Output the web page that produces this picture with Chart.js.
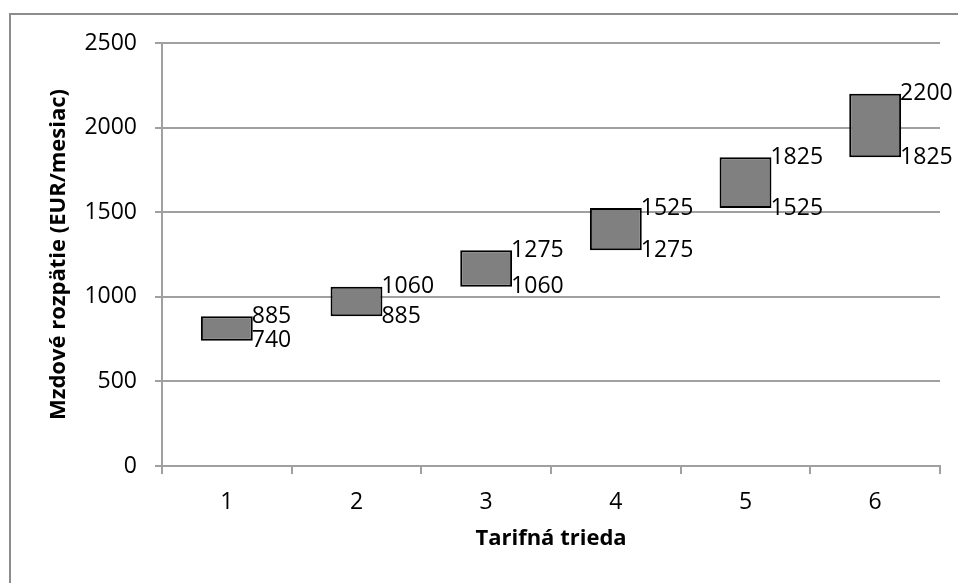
<!DOCTYPE html>
<html>
<head>
<meta charset="utf-8">
<script src="https://cdn.jsdelivr.net/npm/chart.js@4/dist/chart.umd.min.js"></script>
<style>
  html, body { margin: 0; padding: 0; background: #fff; overflow: hidden; }
  #wrap { position: relative; width: 958px; height: 583px; }
  #frame {
    position: absolute; left: 9px; top: 13px; width: 1000px; height: 1000px;
    border: 2px solid #8c8c8c; box-sizing: border-box; pointer-events: none;
  }
  canvas { position: absolute; left: 0; top: 0; }
</style>
</head>
<body>
<div id="wrap">
  <canvas id="chart" width="958" height="583"></canvas>
  <div id="frame"></div>
</div>
<script>
const categories = ["1", "2", "3", "4", "5", "6"];
const minValues = [740, 885, 1060, 1275, 1525, 1825];
const maxValues = [885, 1060, 1275, 1525, 1825, 2200];

const gridColor = "#a0a0a0";
const font = "'Open Sans', sans-serif";

// popisky min/max vpravo od stlpca
const rangeLabels = {
  id: "rangeLabels",
  afterDatasetsDraw(chart) {
    const ctx = chart.ctx;
    const y = chart.scales.y;
    const meta = chart.getDatasetMeta(0);
    ctx.save();
    ctx.font = "23px " + font;
    ctx.fillStyle = "#000";
    ctx.textAlign = "left";
    ctx.textBaseline = "middle";
    meta.data.forEach((bar, i) => {
      const x = bar.x + bar.width / 2 - 1;
      ctx.fillText(String(maxValues[i]), x, y.getPixelForValue(maxValues[i]));
      ctx.fillText(String(minValues[i]), x, y.getPixelForValue(minValues[i]));
    });
    ctx.restore();
  },
};

new Chart(document.getElementById("chart"), {
  type: "bar",
  data: {
    labels: categories,
    datasets: [
      {
        data: categories.map((c, i) => [minValues[i], maxValues[i]]),
        backgroundColor: "#808080",
        borderColor: "#000",
        borderWidth: 2,
        borderSkipped: false,
        barPercentage: 0.4,
        categoryPercentage: 1,
      },
    ],
  },
  options: {
    responsive: false,
    devicePixelRatio: 1,
    animation: false,
    layout: { padding: { top: 43, right: 18, left: 0, bottom: 0 } },
    plugins: { legend: { display: false }, tooltip: { enabled: false } },
    scales: {
      x: {
        afterFit: (s) => { s.height = 117; },
        grid: {
          offset: true,
          drawOnChartArea: false,
          drawTicks: true,
          tickLength: 8,
          color: gridColor,
          lineWidth: 2,
        },
        border: { display: true, color: gridColor, width: 2 },
        ticks: { color: "#000", font: { family: font, size: 23 }, padding: 15 },
        title: {
          display: true,
          text: "Tarifná trieda",
          color: "#000",
          font: { family: font, size: 22, weight: "bold" },
          padding: { bottom: 31 },
        },
      },
      y: {
        min: 0,
        max: 2500,
        afterFit: (s) => { s.width = 162; },
        ticks: {
          stepSize: 500,
          color: "#000",
          font: { family: font, size: 23 },
          padding: 18,
          callback: (v) => String(v),
        },
        grid: { color: gridColor, lineWidth: 2, tickLength: 7 },
        border: { display: true, color: gridColor, width: 2 },
        title: {
          display: true,
          text: "Mzdové rozpätie (EUR/mesiac)",
          color: "#000",
          font: { family: font, size: 22, weight: "bold" },
          padding: { top: 46 },
        },
      },
    },
  },
  plugins: [rangeLabels],
});
</script>
</body>
</html>
